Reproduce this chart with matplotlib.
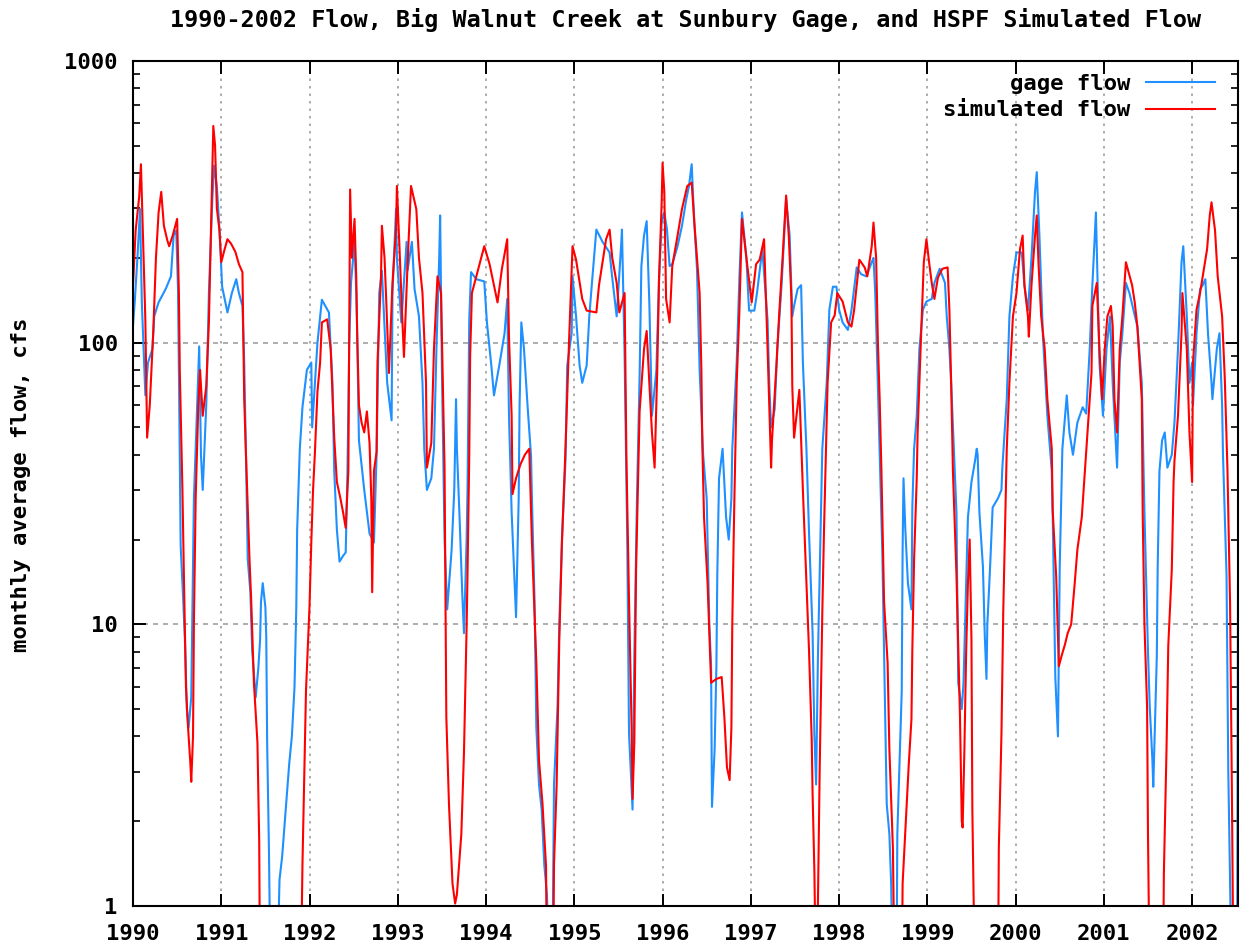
import numpy as np
import matplotlib
matplotlib.use("Agg")
import matplotlib.pyplot as plt
from matplotlib.ticker import LogLocator, NullFormatter, FixedLocator

# gage flow (blue): decimal year, cfs
gage_t = [1990.00, 1990.02, 1990.05, 1990.08, 1990.10, 1990.14, 1990.17, 1990.22, 1990.24, 1990.29,
          1990.37, 1990.43, 1990.46, 1990.49, 1990.51, 1990.52, 1990.54, 1990.57, 1990.59, 1990.61,
          1990.63, 1990.66, 1990.69, 1990.71, 1990.75, 1990.77, 1990.79, 1990.83, 1990.86, 1990.90,
          1990.92, 1990.95, 1990.98, 1991.01, 1991.07, 1991.12, 1991.17, 1991.20, 1991.24, 1991.26,
          1991.28, 1991.30, 1991.33, 1991.35, 1991.39, 1991.42, 1991.44, 1991.45, 1991.47, 1991.50,
          1991.51, 1991.52, 1991.54, 1991.56, 1991.63, 1991.66, 1991.69, 1991.73, 1991.77, 1991.80,
          1991.83, 1991.85, 1991.86, 1991.89, 1991.92, 1991.97, 1992.02, 1992.03, 1992.09, 1992.14,
          1992.22, 1992.26, 1992.28, 1992.31, 1992.34, 1992.38, 1992.41, 1992.43, 1992.45, 1992.47,
          1992.51, 1992.53, 1992.54, 1992.56, 1992.62, 1992.68, 1992.73, 1992.76, 1992.79, 1992.82,
          1992.88, 1992.93, 1992.94, 1992.98, 1992.99, 1993.04, 1993.10, 1993.11, 1993.16, 1993.19,
          1993.24, 1993.28, 1993.30, 1993.33, 1993.38, 1993.41, 1993.44, 1993.47, 1993.48, 1993.50,
          1993.53, 1993.56, 1993.61, 1993.64, 1993.66, 1993.67, 1993.70, 1993.73, 1993.75, 1993.78,
          1993.79, 1993.81, 1993.83, 1993.89, 1993.98, 1994.01, 1994.06, 1994.09, 1994.15, 1994.21,
          1994.24, 1994.26, 1994.29, 1994.32, 1994.34, 1994.37, 1994.38, 1994.40, 1994.43, 1994.47,
          1994.51, 1994.52, 1994.55, 1994.57, 1994.60, 1994.63, 1994.66, 1994.69, 1994.72, 1994.75,
          1994.77, 1994.81, 1994.83, 1994.86, 1994.90, 1994.92, 1994.97, 1994.98, 1995.02, 1995.06,
          1995.09, 1995.14, 1995.17, 1995.20, 1995.25, 1995.32, 1995.40, 1995.43, 1995.48, 1995.53,
          1995.54, 1995.57, 1995.60, 1995.62, 1995.66, 1995.68, 1995.71, 1995.74, 1995.76, 1995.79,
          1995.82, 1995.85, 1995.88, 1995.93, 1995.96, 1995.99, 1996.02, 1996.05, 1996.08, 1996.11,
          1996.17, 1996.22, 1996.27, 1996.30, 1996.33, 1996.36, 1996.39, 1996.42, 1996.46, 1996.50,
          1996.53, 1996.55, 1996.56, 1996.59, 1996.61, 1996.62, 1996.64, 1996.68, 1996.72, 1996.75,
          1996.78, 1996.79, 1996.84, 1996.87, 1996.90, 1996.95, 1996.98, 1997.04, 1997.07, 1997.13,
          1997.19, 1997.21, 1997.23, 1997.27, 1997.30, 1997.35, 1997.40, 1997.44, 1997.47, 1997.49,
          1997.53, 1997.57, 1997.59, 1997.63, 1997.66, 1997.70, 1997.72, 1997.74, 1997.76, 1997.78,
          1997.80, 1997.81, 1997.86, 1997.89, 1997.93, 1997.97, 1998.00, 1998.04, 1998.10, 1998.14,
          1998.20, 1998.25, 1998.31, 1998.37, 1998.39, 1998.41, 1998.44, 1998.49, 1998.51, 1998.54,
          1998.57, 1998.59, 1998.61, 1998.65, 1998.66, 1998.71, 1998.72, 1998.73, 1998.75, 1998.78,
          1998.82, 1998.83, 1998.85, 1998.88, 1998.91, 1998.95, 1998.99, 1999.05, 1999.08, 1999.14,
          1999.20, 1999.22, 1999.25, 1999.27, 1999.33, 1999.35, 1999.39, 1999.41, 1999.44, 1999.46,
          1999.50, 1999.54, 1999.56, 1999.57, 1999.59, 1999.63, 1999.65, 1999.67, 1999.68, 1999.71,
          1999.74, 1999.80, 1999.84, 1999.85, 1999.90, 1999.93, 1999.97, 2000.01, 2000.07, 2000.10,
          2000.14, 2000.18, 2000.22, 2000.24, 2000.27, 2000.31, 2000.36, 2000.41, 2000.42, 2000.45,
          2000.48, 2000.50, 2000.53, 2000.58, 2000.61, 2000.65, 2000.70, 2000.76, 2000.80, 2000.84,
          2000.87, 2000.91, 2000.93, 2000.95, 2000.99, 2001.03, 2001.07, 2001.10, 2001.15, 2001.18,
          2001.21, 2001.25, 2001.29, 2001.33, 2001.38, 2001.43, 2001.46, 2001.50, 2001.52, 2001.55,
          2001.56, 2001.60, 2001.61, 2001.63, 2001.66, 2001.69, 2001.72, 2001.77, 2001.80, 2001.84,
          2001.88, 2001.90, 2001.94, 2001.97, 2002.00, 2002.01, 2002.05, 2002.09, 2002.12, 2002.15,
          2002.18, 2002.22, 2002.23, 2002.28, 2002.31, 2002.34, 2002.35, 2002.39, 2002.41, 2002.45,
          2002.51, 2002.52]
gage_q = [115, 140, 200, 298, 139, 65, 85, 95, 124, 139,
          155, 172, 240, 250, 155, 80, 19, 12, 8.5, 5,
          4.3, 5.5, 28, 42, 97, 40, 30, 60, 150, 330,
          425, 360, 250, 158, 128, 150, 168, 150, 135, 85,
          40, 17, 13, 8.1, 5.5, 7, 8.8, 12, 14, 11.5,
          9, 3.8, 1.6, 0.5, 0.5, 1.24, 1.5, 2.2, 3.2, 4,
          6, 11.4, 21.7, 42, 59, 80, 85, 50, 100, 142,
          128, 72, 35, 21.7, 16.7, 17.5, 18, 35, 100, 163,
          228, 150, 108, 45, 30, 21, 19.5, 40, 150, 180,
          72, 53, 150, 298, 200, 118, 228, 180, 228, 155,
          124, 72, 42, 30, 33, 42, 100, 203, 283, 80,
          20, 11.3, 18.4, 30, 63, 42, 24, 13, 9.3, 20,
          30, 121, 178, 168, 165, 118, 83, 65, 83, 108,
          143, 55, 25, 15, 10.6, 28, 60, 118, 95, 60,
          39.5, 28, 12, 4.3, 2.7, 2.2, 1.4, 1.1, 0.5, 0.5,
          2.7, 5.1, 10, 20, 38, 83, 108, 172, 124, 83,
          72, 83, 124, 163, 252, 228, 209, 170, 124, 220,
          252, 90, 20, 4.1, 2.2, 7.7, 28, 76, 187, 240,
          270, 139, 55, 80, 168, 267, 290, 252, 187, 190,
          220, 260, 324, 360, 430, 267, 183, 80, 40, 28,
          10, 7.1, 2.25, 3.6, 7.1, 14.8, 33, 42, 24, 20,
          28, 42, 85, 168, 290, 200, 130, 130, 150, 215,
          120, 70, 50, 58, 95, 163, 324, 240, 124, 135,
          155, 160, 85, 42, 21, 9.3, 4.1, 2.7, 7.5, 14.8,
          28, 42, 72, 131, 158, 158, 131, 118, 111, 130,
          185, 175, 172, 193, 200, 150, 70, 18, 8, 2.3,
          1.8, 1.2, 0.5, 0.5, 1.8, 5.8, 18.4, 33, 22, 14,
          11.3, 26, 42, 55, 95, 131, 140, 143, 163, 183,
          163, 124, 95, 72, 25, 6.2, 5, 6.2, 14, 24,
          32, 38, 42, 40, 25, 16, 9.3, 6.4, 10, 15.7,
          26, 28, 30, 36, 63, 124, 172, 209, 209, 160,
          130, 200, 343, 403, 240, 105, 55, 35, 25, 6.5,
          4, 16, 42, 65, 48, 40, 52, 59, 56, 95,
          160, 290, 160, 85, 55, 95, 124, 72, 36, 85,
          108, 163, 150, 133, 114, 72, 25, 8, 5.1, 3.3,
          2.65, 7.7, 16, 35, 45, 48, 36, 40, 52, 95,
          193, 220, 124, 72, 85, 60, 108, 155, 160, 168,
          108, 72, 63, 95, 108, 60, 40, 15, 3, 0.5,
          0.5, 14]

# simulated flow (red)
sim_t = [1990.00, 1990.03, 1990.07, 1990.09, 1990.11, 1990.14, 1990.16, 1990.19, 1990.23, 1990.26,
         1990.29, 1990.32, 1990.35, 1990.39, 1990.41, 1990.45, 1990.50, 1990.51, 1990.52, 1990.53,
         1990.56, 1990.58, 1990.60, 1990.62, 1990.65, 1990.66, 1990.68, 1990.69, 1990.71, 1990.74,
         1990.76, 1990.79, 1990.83, 1990.86, 1990.88, 1990.91, 1990.93, 1990.95, 1990.98, 1991.00,
         1991.03, 1991.07, 1991.11, 1991.16, 1991.20, 1991.24, 1991.26, 1991.28, 1991.32, 1991.34,
         1991.37, 1991.41, 1991.43, 1991.44, 1991.90, 1991.92, 1991.94, 1991.96, 1992.00, 1992.02,
         1992.04, 1992.06, 1992.09, 1992.12, 1992.14, 1992.20, 1992.24, 1992.28, 1992.31, 1992.35,
         1992.38, 1992.41, 1992.44, 1992.46, 1992.48, 1992.51, 1992.53, 1992.54, 1992.56, 1992.59,
         1992.62, 1992.65, 1992.68, 1992.70, 1992.71, 1992.73, 1992.76, 1992.77, 1992.81, 1992.82,
         1992.85, 1992.87, 1992.90, 1992.94, 1992.98, 1992.99, 1993.02, 1993.05, 1993.07, 1993.11,
         1993.15, 1993.21, 1993.24, 1993.28, 1993.32, 1993.33, 1993.38, 1993.41, 1993.45, 1993.49,
         1993.53, 1993.55, 1993.58, 1993.62, 1993.65, 1993.67, 1993.72, 1993.75, 1993.78, 1993.79,
         1993.81, 1993.82, 1993.84, 1993.89, 1993.98, 1994.04, 1994.13, 1994.18, 1994.24, 1994.26,
         1994.29, 1994.30, 1994.34, 1994.39, 1994.44, 1994.49, 1994.52, 1994.57, 1994.60, 1994.64,
         1994.68, 1994.69, 1994.76, 1994.77, 1994.80, 1994.83, 1994.86, 1994.90, 1994.94, 1994.98,
         1995.02, 1995.09, 1995.14, 1995.25, 1995.28, 1995.36, 1995.40, 1995.43, 1995.48, 1995.51,
         1995.57, 1995.59, 1995.62, 1995.65, 1995.66, 1995.68, 1995.70, 1995.74, 1995.79, 1995.82,
         1995.85, 1995.88, 1995.91, 1995.94, 1995.96, 1995.99, 1996.00, 1996.02, 1996.04, 1996.08,
         1996.11, 1996.17, 1996.22, 1996.28, 1996.33, 1996.36, 1996.42, 1996.44, 1996.45, 1996.47,
         1996.51, 1996.55, 1996.61, 1996.67, 1996.70, 1996.73, 1996.76, 1996.78, 1996.79, 1996.81,
         1996.84, 1996.87, 1996.90, 1996.95, 1997.01, 1997.06, 1997.10, 1997.15, 1997.19, 1997.23,
         1997.24, 1997.29, 1997.32, 1997.36, 1997.40, 1997.43, 1997.46, 1997.47, 1997.49, 1997.53,
         1997.55, 1997.57, 1997.59, 1997.63, 1997.66, 1997.69, 1997.70, 1997.72, 1997.74, 1997.76,
         1997.78, 1997.81, 1997.83, 1997.87, 1997.91, 1997.95, 1997.98, 1998.04, 1998.10, 1998.14,
         1998.17, 1998.23, 1998.29, 1998.32, 1998.37, 1998.39, 1998.42, 1998.44, 1998.46, 1998.48,
         1998.51, 1998.55, 1998.57, 1998.61, 1998.63, 1998.71, 1998.72, 1998.76, 1998.79, 1998.82,
         1998.83, 1998.85, 1998.88, 1998.89, 1998.93, 1998.96, 1998.99, 1999.02, 1999.05, 1999.08,
         1999.12, 1999.17, 1999.23, 1999.25, 1999.27, 1999.29, 1999.33, 1999.37, 1999.39, 1999.40,
         1999.42, 1999.44, 1999.46, 1999.48, 1999.50, 1999.51, 1999.54, 1999.80, 1999.81, 1999.84,
         1999.86, 1999.89, 1999.90, 1999.93, 1999.97, 2000.01, 2000.05, 2000.08, 2000.10, 2000.14,
         2000.15, 2000.18, 2000.22, 2000.24, 2000.26, 2000.29, 2000.33, 2000.36, 2000.41, 2000.42,
         2000.46, 2000.49, 2000.52, 2000.56, 2000.59, 2000.63, 2000.67, 2000.70, 2000.75, 2000.78,
         2000.82, 2000.86, 2000.87, 2000.92, 2000.95, 2000.98, 2001.01, 2001.04, 2001.08, 2001.10,
         2001.12, 2001.15, 2001.18, 2001.21, 2001.25, 2001.27, 2001.32, 2001.35, 2001.38, 2001.43,
         2001.44, 2001.46, 2001.49, 2001.50, 2001.52, 2001.67, 2001.68, 2001.71, 2001.73, 2001.77,
         2001.79, 2001.80, 2001.84, 2001.88, 2001.89, 2001.94, 2001.97, 2002.00, 2002.01, 2002.05,
         2002.09, 2002.12, 2002.17, 2002.20, 2002.22, 2002.26, 2002.29, 2002.34, 2002.37, 2002.40,
         2002.43, 2002.45, 2002.47, 2002.53]
sim_q = [160, 250, 330, 430, 260, 120, 46, 60, 110, 200,
         290, 343, 260, 230, 220, 240, 275, 200, 150, 80,
         30, 13, 6, 4.5, 3.2, 2.76, 4, 10, 28, 60,
         80, 55, 70, 118, 228, 588, 500, 300, 250, 193,
         210, 233, 225, 210, 190, 178, 63, 40, 17, 12,
         6.2, 3.8, 1.7, 0.5, 0.5, 1.4, 2.9, 5.8, 11.6, 19.5,
         30, 40, 67, 85, 118, 121, 95, 46, 32, 28,
         25, 22, 35, 350, 200, 275, 168, 108, 60, 52,
         48, 57, 44, 28, 13, 35, 41, 85, 172, 260,
         200, 139, 78, 163, 252, 360, 215, 124, 89, 187,
         360, 298, 200, 150, 72, 36, 44, 95, 172, 150,
         36, 4.7, 2.3, 1.2, 1.02, 1.1, 1.8, 3.5, 9.8, 15,
         40, 90, 150, 172, 220, 190, 139, 183, 233, 105,
         55, 29, 33, 37, 40, 42, 19.5, 7.3, 3.3, 2.3,
         1.38, 0.5, 0.5, 1.4, 2.7, 8.8, 19.5, 42, 100, 220,
         197, 143, 130, 128, 160, 233, 252, 200, 163, 128,
         150, 40, 12.2, 4.2, 2.4, 3.8, 15.7, 57, 95, 110,
         72, 48, 36, 80, 168, 315, 435, 343, 143, 118,
         187, 240, 298, 360, 370, 267, 150, 80, 44, 24,
         14, 6.2, 6.4, 6.5, 4.7, 3.1, 2.8, 4.3, 10, 24,
         72, 128, 275, 200, 139, 190, 197, 233, 95, 36,
         45, 83, 124, 200, 333, 240, 143, 70, 46, 60,
         68, 45, 30, 14, 8, 3.9, 2.5, 1.34, 0.5, 1.0,
         3, 11, 22, 72, 118, 125, 150, 140, 118, 114,
         130, 197, 185, 172, 220, 267, 200, 100, 63, 35,
         12, 7.3, 3.6, 1.6, 0.5, 0.5, 1.2, 2.1, 3.2, 4.6,
         8.1, 17, 33, 48, 108, 193, 233, 193, 163, 143,
         170, 183, 185, 131, 72, 35, 15, 4.7, 2, 1.9,
         3.6, 8, 14, 20, 8.8, 2.2, 0.5, 0.5, 1.6, 4.1,
         11, 30, 42, 72, 124, 150, 215, 240, 160, 124,
         105, 160, 240, 283, 190, 124, 95, 63, 42, 25.5,
         14.8, 7.1, 7.7, 8.5, 9.3, 10, 14, 18.4, 24, 33,
         50, 78, 135, 163, 95, 63, 95, 124, 135, 115,
         63, 48, 95, 124, 193, 183, 160, 139, 114, 63,
         25, 10, 5.1, 1.8, 0.5, 0.5, 1.3, 3.6, 8.4, 15.7,
         32, 38, 55, 108, 150, 95, 48, 32, 85, 131,
         150, 172, 215, 283, 315, 250, 172, 124, 75, 36,
         12, 2.7, 0.5, 0.5]

year_ticks = list(range(1990, 2003))
flow_ticks = [1, 10, 100, 1000]

MONO = "DejaVu Sans Mono"
plt.rcParams["font.family"] = MONO
plt.rcParams["font.weight"] = "bold"

fig = plt.figure(figsize=(12.4, 9.47), dpi=100)
ax = fig.add_axes([133 / 1240, 1 - 906 / 947, 1105 / 1240, 845 / 947])

ax.plot(gage_t, gage_q, color="#1e90ff", lw=1.5, label="gage flow")
ax.plot(sim_t, sim_q, color="#ff0000", lw=1.5, label="simulated flow")

ax.set_yscale("log")
ax.set_ylim(1, 1000)
ax.set_xlim(1990, 2002.52)

ax.xaxis.set_major_locator(FixedLocator(year_ticks))
ax.set_xticklabels([str(y) for y in year_ticks])
ax.yaxis.set_major_locator(FixedLocator(flow_ticks))
ax.set_yticklabels([str(v) for v in flow_ticks])
ax.yaxis.set_minor_locator(LogLocator(base=10, subs=np.arange(2, 10)))
ax.yaxis.set_minor_formatter(NullFormatter())

ax.tick_params(which="major", direction="in", length=9, width=1.4,
               top=True, right=True, labelsize=16)
ax.tick_params(which="minor", direction="in", length=5, width=1.2, right=True)
ax.tick_params(axis="x", pad=13)
ax.tick_params(axis="y", pad=11)
for s in ax.spines.values():
    s.set_linewidth(1.5)

ax.grid(True, axis="x", which="major", color="#a0a0a0", lw=1.2, ls=(0, (1.5, 3)))
ax.grid(True, axis="y", which="major", color="#a0a0a0", lw=1.2, ls=(0, (3, 3)))

leg = ax.legend(loc="upper right", bbox_to_anchor=(0.979, 0.985), frameon=False,
                markerfirst=False, fontsize=16, handlelength=3.1, handletextpad=0.7,
                labelspacing=0.3, borderpad=0, borderaxespad=0)

fig.text(686 / 1240, 1 - 20 / 947, "1990-2002 Flow, Big Walnut Creek at Sunbury Gage, and HSPF Simulated Flow",
         ha="center", va="center", fontsize=16.8, fontweight="bold")
fig.text(21 / 1240, 1 - 485 / 947, "monthly average flow, cfs", rotation=90,
         ha="center", va="center", fontsize=16, fontweight="bold")

fig.savefig("out.png", dpi=100)
